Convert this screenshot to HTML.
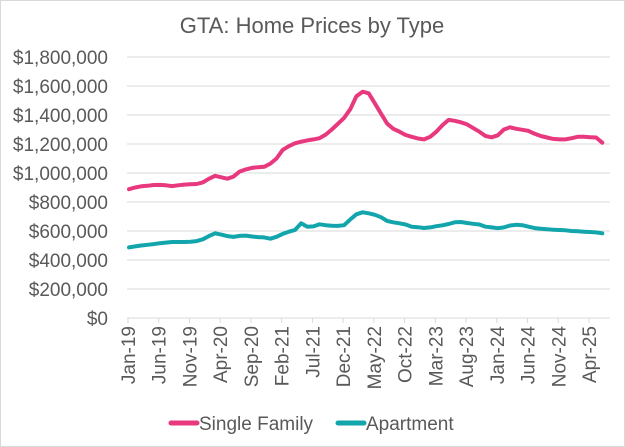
<!DOCTYPE html>
<html><head><meta charset="utf-8"><style>
body{margin:0;background:#fff}
svg{display:block;font-family:"Liberation Sans",sans-serif}
</style></head><body>
<svg id="chart" width="625" height="447">
<rect x="0.5" y="0.5" width="624" height="446" fill="#fff" stroke="#d9d9d9"/>
<text x="312" y="33" text-anchor="middle" font-size="22" fill="#595959">GTA: Home Prices by Type</text>
<g id="grid"></g><g id="yl"></g><g id="xl"></g><g id="lines"></g>
<g>
<g><line x1="171" y1="423" x2="197" y2="423" stroke="#e8387e" stroke-width="5" stroke-linecap="round"/><text x="199" y="430" font-size="19" fill="#595959">Single Family</text></g>
<g><line x1="338" y1="423" x2="364" y2="423" stroke="#12a5ac" stroke-width="5" stroke-linecap="round"/><text x="366" y="430" font-size="19" fill="#595959">Apartment</text></g>
</g>
</svg>
<script>
const yTicks=[0,200000,400000,600000,800000,1000000,1200000,1400000,1600000,1800000];
const xTickLabels=["Jan-19","Jun-19","Nov-19","Apr-20","Sep-20","Feb-21","Jul-21","Dec-21","May-22","Oct-22","Mar-23","Aug-23","Jan-24","Jun-24","Nov-24","Apr-25"];
const singleFamily=[888,900,908,912,917,918,915,910,915,920,922,924,935,960,981,970,961,975,1010,1025,1035,1040,1043,1065,1100,1159,1185,1205,1216,1225,1232,1240,1265,1300,1340,1380,1440,1530,1561,1550,1480,1410,1340,1305,1285,1262,1250,1238,1232,1250,1285,1330,1366,1360,1350,1335,1310,1285,1255,1246,1260,1300,1315,1305,1298,1290,1270,1255,1245,1235,1232,1232,1240,1250,1250,1247,1245,1209];
const apartment=[487,494,500,505,510,516,520,524,524,524,526,530,543,565,584,575,565,559,566,568,562,558,556,547,560,580,595,607,653,630,632,646,640,636,635,640,680,715,729,722,712,695,669,660,653,645,630,626,621,625,633,639,648,660,662,655,650,645,630,625,619,625,638,643,640,630,620,616,612,609,607,605,600,598,595,593,590,584];
const NS="http://www.w3.org/2000/svg";
const x=m=>129+m*(461/75);
const y=v=>318-v/1800000*261;
function mk(t,a,p){const e=document.createElementNS(NS,t);for(const k in a)e.setAttribute(k,a[k]);p.appendChild(e);return e;}
const grid=document.getElementById('grid'),yl=document.getElementById('yl'),xl=document.getElementById('xl'),lines=document.getElementById('lines');
yTicks.forEach(v=>{
 const g=mk('line',{x1:127,x2:610,y1:y(v),y2:y(v),stroke:'#d9d9d9','stroke-width':1},grid);
 
 
 const t=mk('text',{x:108,y:y(v)+7,'text-anchor':'end','font-size':19,fill:'#595959'},yl);
 t.textContent='$'+v.toLocaleString('en-US');
 
 
});
xTickLabels.forEach((s,i)=>{
 const px=x(i*5)-1;
 const tk=mk('line',{x1:px,x2:px,y1:318,y2:323,stroke:'#d9d9d9'},grid);
 
 
 const t=mk('text',{transform:`translate(${px+7},326) rotate(-90)`,'text-anchor':'end','font-size':19,fill:'#595959'},xl);
 t.textContent=s;
 
 
});
function draw(arr,color,name){
 const d=arr.map((v,i)=>(i?'L':'M')+x(i).toFixed(1)+','+y(v*1000).toFixed(1)).join('');
 const p=mk('path',{d,fill:'none',stroke:color,'stroke-width':4,'stroke-linejoin':'round','stroke-linecap':'round'},lines);
 
 
}
draw(singleFamily,'#e8387e','single-family-line');
draw(apartment,'#12a5ac','apartment-line');
</script>
</body></html>
